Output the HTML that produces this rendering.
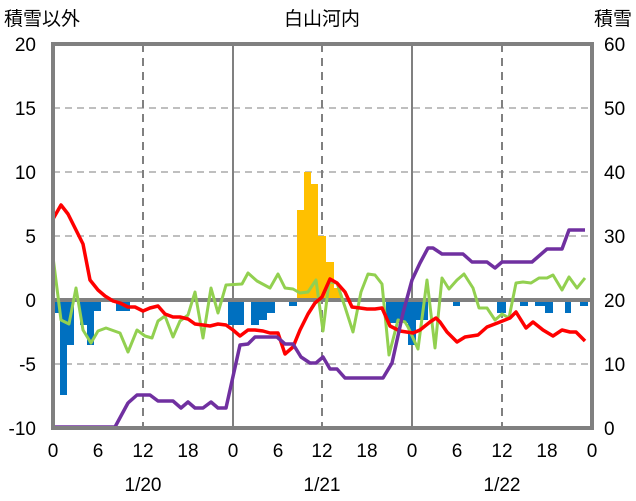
<!DOCTYPE html><html><head><meta charset="utf-8"><style>body{margin:0;background:#fff}svg{display:block;font-family:"Liberation Sans","Noto Sans CJK JP",sans-serif}</style></head><body>
<svg width="636" height="501" viewBox="0 0 636 501">
<g stroke="#aaa" stroke-width="1.5" stroke-dasharray="7,5"><line x1="53" y1="108" x2="592" y2="108"/><line x1="53" y1="172" x2="592" y2="172"/><line x1="53" y1="236" x2="592" y2="236"/><line x1="53" y1="364" x2="592" y2="364"/></g>
<g stroke="#808080" stroke-width="2" stroke-dasharray="8,6"><line x1="143" y1="44" x2="143" y2="428"/><line x1="322" y1="44" x2="322" y2="428"/><line x1="502" y1="44" x2="502" y2="428"/></g>
<g stroke="#808080" stroke-width="2"><line x1="233" y1="44" x2="233" y2="428"/><line x1="412" y1="44" x2="412" y2="428"/></g>
<g fill="#0070c0">
<rect x="53" y="300" width="7" height="13"/><rect x="60" y="300" width="7" height="95"/><rect x="67" y="300" width="7" height="45"/><rect x="80" y="300" width="7" height="25"/><rect x="87" y="300" width="7" height="45"/><rect x="94" y="300" width="7" height="11"/><rect x="116" y="300" width="7" height="11"/><rect x="123" y="300" width="7" height="11"/><rect x="228" y="300" width="7" height="25"/><rect x="235" y="300" width="9" height="25"/><rect x="251" y="300" width="8" height="25"/><rect x="259" y="300" width="8" height="20"/><rect x="267" y="300" width="8" height="13"/><rect x="289" y="300" width="8" height="6"/><rect x="386" y="300" width="22" height="23"/><rect x="408" y="300" width="8" height="45"/><rect x="416" y="300" width="12" height="20"/><rect x="453" y="300" width="7" height="6"/><rect x="497" y="300" width="9" height="13"/><rect x="520" y="300" width="8" height="6"/><rect x="535" y="300" width="10" height="6"/><rect x="545" y="300" width="8" height="13"/><rect x="565" y="300" width="6" height="13"/><rect x="580" y="300" width="8" height="6"/></g>
<g fill="#ffc000"><rect x="297" y="210" width="7" height="90"/><rect x="304" y="172" width="7" height="128"/><rect x="311" y="184" width="7" height="116"/><rect x="318" y="236" width="8" height="64"/><rect x="326" y="262" width="8" height="38"/><rect x="334" y="288" width="7" height="12"/></g>
<line x1="53" y1="300" x2="592" y2="300" stroke="#808080" stroke-width="4"/>
<g fill="none" stroke-width="3.5" stroke-linejoin="round">
<polyline stroke="#92d050" stroke-width="3" points="53,257 61,320 69,324 76,288 83,330 91,343 98,331 106,328 120,333 128,352 137,330 145,336 152,338 158,321 165,316 173,337 180,321 188,315 195,292 203,338 211,288 218,313 226,285 242,284 248,273 257,281 270,288 278,274 285,288 293,289 300,293 308,292 316,280 323,331 329,282 337,283 345,307 353,332 361,292 368,274 375,275 382,284 389,355 398,320 405,322 408,327 418,349 427,280 435,348 442,278 449,289 457,280 464,274 473,288 479,308 487,308 495,320 502,314 509,318 516,283 523,282 531,283 539,278 547,278 553,275 562,290 569,277 577,288 585,278"/>
<polyline stroke="#ff0000" points="53,219 61,205 68,214 76,230 83,244 90,280 98,290 105,296 113,301 120,303 128,307 135,307 143,311 150,308 158,306 165,314 173,317 180,317 188,319 195,324 203,325 210,326 218,324 226,325 233,330 240,336 248,330 255,330 263,331 270,333 278,333 285,354 293,347 300,330 308,314 315,303 322,297 330,279 337,283 345,292 352,307 360,308 367,309 375,309 382,308 390,326 400,331 413,333 420,330 430,322 436,318 440,322 447,332 457,342 465,337 478,335 487,327 500,322 510,318 516,312 526,328 533,322 543,330 553,336 562,330 570,332 576,332 585,341"/>
<polyline stroke="#7030a0" points="53,427 115,427 128,403 137,395 150,395 158,401 173,401 181,408 188,402 195,408 203,408 211,402 218,408 226,408 240,345 248,344 255,337 277,337 285,344 293,344 301,357 310,363 316,363 323,357 330,369 337,369 345,378 383,378 392,363 403,313 412,280 420,263 428,248 433,248 442,254 463,254 472,262 487,262 495,268 502,262 532,262 547,249 562,249 569,230 585,230"/>
</g>
<rect x="53" y="44" width="539" height="384" fill="none" stroke="#808080" stroke-width="4"/>
<g font-size="19" fill="#000" text-anchor="end"><text x="36" y="51">20</text><text x="36" y="115">15</text><text x="36" y="179">10</text><text x="36" y="243">5</text><text x="36" y="307">0</text><text x="36" y="371">-5</text><text x="36" y="435">-10</text></g>
<g font-size="19" fill="#000" text-anchor="start"><text x="604" y="51">60</text><text x="604" y="115">50</text><text x="604" y="179">40</text><text x="604" y="243">30</text><text x="604" y="307">20</text><text x="604" y="371">10</text><text x="604" y="435">0</text></g>
<g font-size="19" fill="#000" text-anchor="middle"><text x="53" y="457">0</text><text x="98" y="457">6</text><text x="143" y="457">12</text><text x="188" y="457">18</text><text x="233" y="457">0</text><text x="278" y="457">6</text><text x="322" y="457">12</text><text x="367" y="457">18</text><text x="412" y="457">0</text><text x="457" y="457">6</text><text x="502" y="457">12</text><text x="547" y="457">18</text><text x="592" y="457">0</text>
<text x="143" y="491">1/20</text><text x="322" y="491">1/21</text><text x="502" y="491">1/22</text>
<text x="322" y="25">白山河内</text></g>
<text x="4" y="25" font-size="19">積雪以外</text><text x="632" y="25" font-size="19" text-anchor="end">積雪</text>
</svg></body></html>
